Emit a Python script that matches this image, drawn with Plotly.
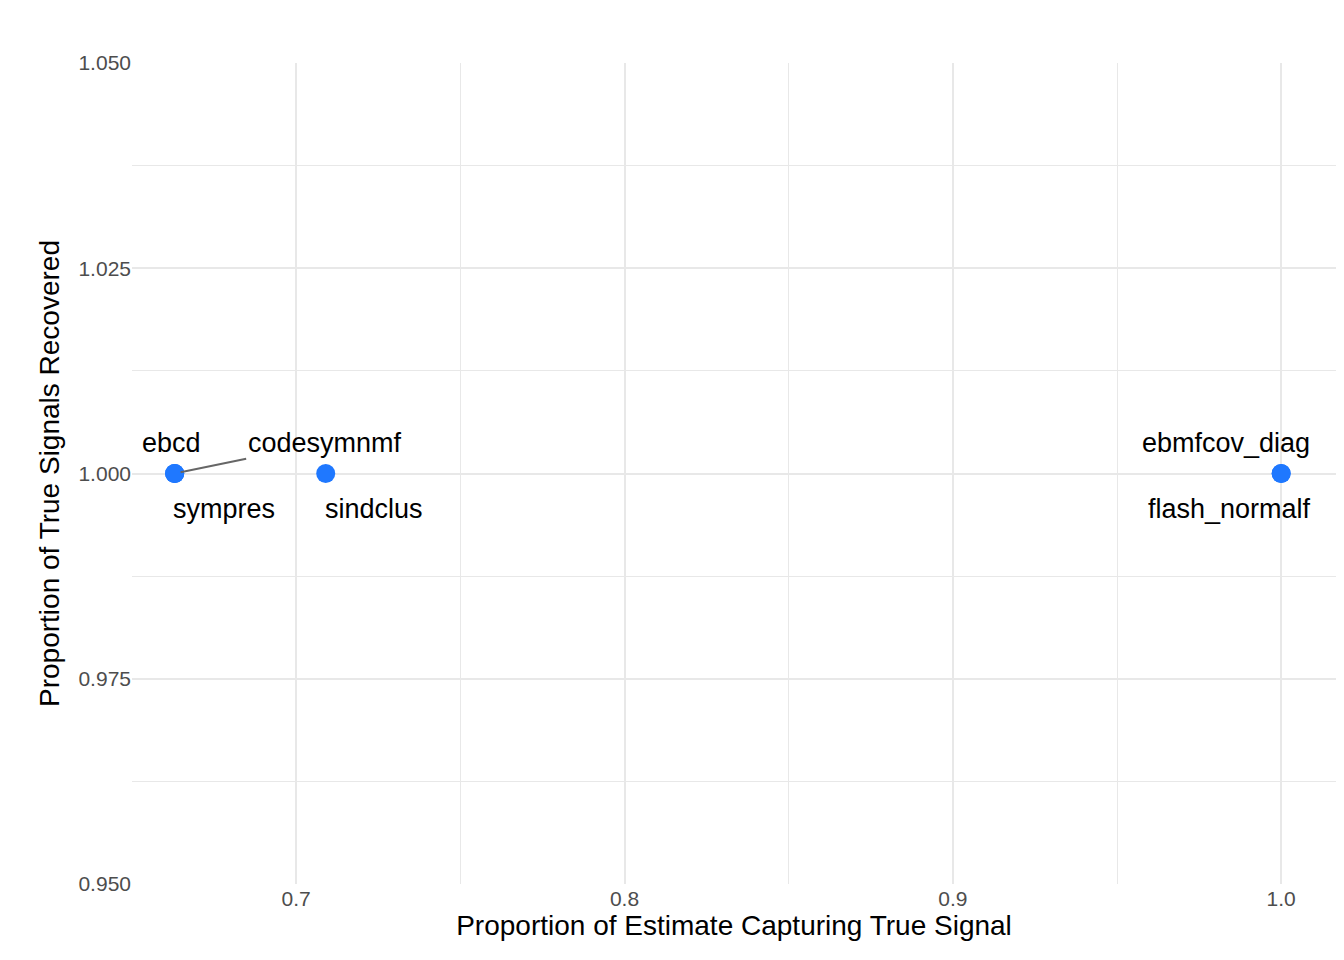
import plotly.graph_objects as go

methods = ["ebcd", "sympres", "codesymnmf", "sindclus", "ebmfcov_diag", "flash_normalf"]
prop_capture = [0.663, 0.663, 0.663, 0.709, 1.0, 1.0]
prop_recovered = [1.0, 1.0, 1.0, 1.0, 1.0, 1.0]

# label offsets in pixels (ggrepel-like placement)
label_offsets = {
    "ebcd": (-3, -31, False),
    "sympres": (49, 35, False),
    "codesymnmf": (150, -31, True),
    "sindclus": (48, 35, False),
    "ebmfcov_diag": (-55, -31, False),
    "flash_normalf": (-52, 35, False),
}

fig = go.Figure()
fig.add_trace(go.Scatter(
    x=prop_capture, y=prop_recovered, mode="markers",
    marker=dict(color="#1f78ff", size=19), showlegend=False, hoverinfo="skip",
))

for m, xv, yv in zip(methods, prop_capture, prop_recovered):
    dx, dy, arrow = label_offsets[m]
    if arrow:
        fig.add_annotation(x=xv, y=yv, text=m, showarrow=True, ax=dx, ay=dy,
                           arrowhead=0, arrowwidth=2, arrowcolor="#666666",
                           standoff=6, font=dict(size=27, color="black"))
    else:
        fig.add_annotation(x=xv, y=yv, text=m, showarrow=False, xshift=dx, yshift=-dy,
                           font=dict(size=27, color="black"))

grid = "#e8e8e8"
fig.update_xaxes(
    range=[0.65, 1.0167], tickvals=[0.7, 0.8, 0.9, 1.0], ticktext=["0.7", "0.8", "0.9", "1.0"],
    showgrid=True, gridcolor=grid, gridwidth=2, zeroline=False,
    minor=dict(tickvals=[0.65, 0.75, 0.85, 0.95], showgrid=True, gridcolor=grid, gridwidth=1),
    tickfont=dict(size=21, color="#4d4d4d"), ticklabelstandoff=0,
    title=dict(text="Proportion of Estimate Capturing True Signal", font=dict(size=28, color="black"), standoff=6),
)
fig.update_yaxes(
    range=[0.95, 1.05], tickvals=[0.95, 0.975, 1.0, 1.025, 1.05],
    ticktext=["0.950", "0.975", "1.000", "1.025", "1.050"],
    showgrid=True, gridcolor=grid, gridwidth=2, zeroline=False,
    minor=dict(tickvals=[0.9625, 0.9875, 1.0125, 1.0375], showgrid=True, gridcolor=grid, gridwidth=1),
    tickfont=dict(size=21, color="#4d4d4d"),
    title=dict(text="Proportion of True Signals Recovered", font=dict(size=28, color="black"), standoff=10),
)
fig.update_layout(
    width=1336, height=952, plot_bgcolor="white", paper_bgcolor="white",
    font=dict(family="Liberation Sans, Arial, sans-serif"),
    margin=dict(l=124, r=8, t=55, b=76),
)
fig.write_html("out.html")
